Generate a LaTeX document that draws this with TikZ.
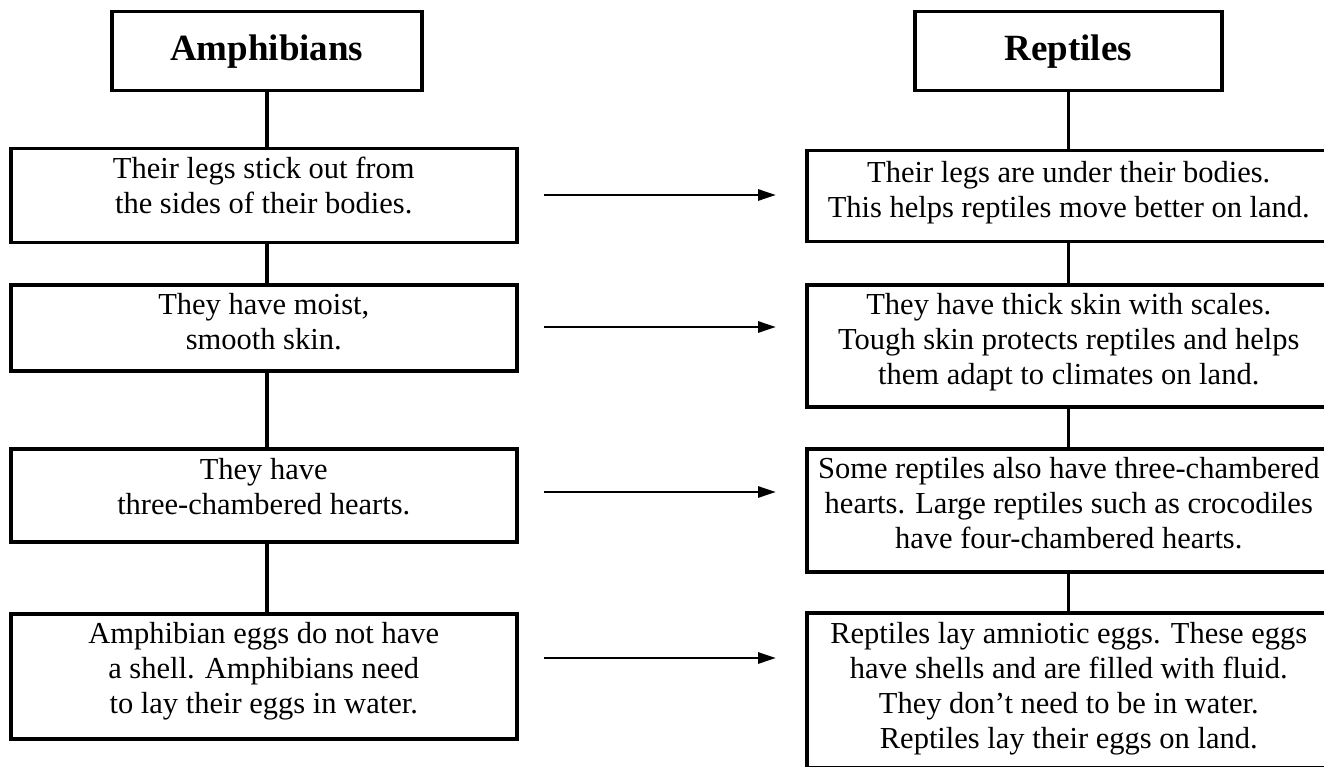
\documentclass[tikz,border=0pt]{standalone}
\usepackage{fontspec}
\setmainfont{Liberation Serif}
\usetikzlibrary{arrows.meta,calc}
\begin{document}
\begin{tikzpicture}[x=1pt,y=-1pt,
  box/.style={draw=black,line width=3.5pt,rectangle,inner sep=0pt,anchor=north west},
  titlebox/.style={box,font=\fontsize{37}{40}\selectfont\bfseries},
  txt/.style={anchor=base,inner sep=0pt,font=\fontsize{30.5}{35}\selectfont},
  link/.style={line width=3.5pt},
  arr/.style={line width=2.8pt,-{Triangle[length=18pt,width=11pt]}}]
\useasboundingbox (0,0) rectangle (1324,767);
% left column
\node[titlebox,minimum width=310,minimum height=79] (L0) at (110,10) {Amphibians};
\node[box,minimum width=506,minimum height=94] (L1) at (9,147) {};
\node[box,minimum width=506,minimum height=86] (L2) at (9,283) {};
\node[box,minimum width=506,minimum height=93] (L3) at (9,447) {};
\node[box,minimum width=506,minimum height=125] (L4) at (9,612) {};
\node[txt] (L1t) at ($(L1.north)+(0,32)$) {\begin{tabular}[t]{@{}c@{}}Their legs stick out from\\the sides of their bodies.\end{tabular}};
\node[txt] (L2t) at ($(L2.north)+(0,31)$) {\begin{tabular}[t]{@{}c@{}}They have moist,\\smooth skin.\end{tabular}};
\node[txt] (L3t) at ($(L3.north)+(0,32)$) {\begin{tabular}[t]{@{}c@{}}They have\\three-chambered hearts.\end{tabular}};
\node[txt] (L4t) at ($(L4.north)+(0,31)$) {\begin{tabular}[t]{@{}c@{}}Amphibian eggs do not have\\a shell. Amphibians need\\to lay their eggs in water.\end{tabular}};
% right column
\node[titlebox,minimum width=307,minimum height=79] (R0) at (913,10) {Reptiles};
\node[box,minimum width=524,minimum height=91] (R1) at (805,149) {};
\node[box,minimum width=524,minimum height=122] (R2) at (805,283) {};
\node[box,minimum width=524,minimum height=123] (R3) at (805,447) {};
\node[box,minimum width=524,minimum height=155] (R4) at (805,611) {};
\node[txt] (R1t) at ($(R1.north)+(0,34)$) {\begin{tabular}[t]{@{}c@{}}Their legs are under their bodies.\\This helps reptiles move better on land.\end{tabular}};
\node[txt] (R2t) at ($(R2.north)+(0,31)$) {\begin{tabular}[t]{@{}c@{}}They have thick skin with scales.\\Tough skin protects reptiles and helps\\them adapt to climates on land.\end{tabular}};
\node[txt] (R3t) at ($(R3.north)+(0,31)$) {\begin{tabular}[t]{@{}c@{}}Some reptiles also have three-chambered\\hearts. Large reptiles such as crocodiles\\have four-chambered hearts.\end{tabular}};
\node[txt] (R4t) at ($(R4.north)+(0,32)$) {\begin{tabular}[t]{@{}c@{}}Reptiles lay amniotic eggs. These eggs\\have shells and are filled with fluid.\\They don’t need to be in water.\\Reptiles lay their eggs on land.\end{tabular}};
% vertical connectors
\draw[link] (L0.south) -- (L0.south |- L1.north);
\draw[link] (L0.south |- L1.south) -- (L0.south |- L2.north);
\draw[link] (L0.south |- L2.south) -- (L0.south |- L3.north);
\draw[link] (L0.south |- L3.south) -- (L0.south |- L4.north);
\draw[link] (R0.south) -- (R0.south |- R1.north);
\draw[link] (R0.south |- R1.south) -- (R0.south |- R2.north);
\draw[link] (R0.south |- R2.south) -- (R0.south |- R3.north);
\draw[link] (R0.south |- R3.south) -- (R0.south |- R4.north);
% horizontal arrows
\coordinate (a1s) at (544,195); \coordinate (a1e) at (776,195);
\coordinate (a2s) at (544,327); \coordinate (a2e) at (776,327);
\coordinate (a3s) at (544,492); \coordinate (a3e) at (776,492);
\coordinate (a4s) at (544,658); \coordinate (a4e) at (776,658);
\draw[arr] (a1s) -- (a1e);
\draw[arr] (a2s) -- (a2e);
\draw[arr] (a3s) -- (a3e);
\draw[arr] (a4s) -- (a4e);
\end{tikzpicture}
\end{document}
